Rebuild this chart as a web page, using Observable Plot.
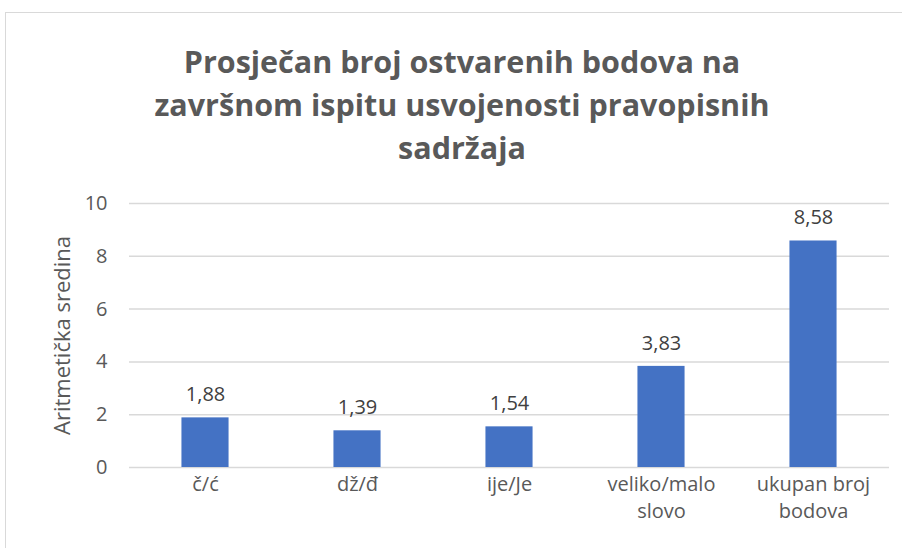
<!DOCTYPE html>
<html>
<head>
<meta charset="utf-8">
<script src="https://cdn.jsdelivr.net/npm/d3@7"></script>
<script src="https://cdn.jsdelivr.net/npm/@observablehq/plot@0.6"></script>
<style>
  html, body { margin: 0; padding: 0; background: #fff; }
  #wrap { position: relative; width: 902px; height: 548px; overflow: hidden; font-family: "Open Sans", sans-serif; }
  #frame { position: absolute; left: 5px; top: 12px; width: 1000px; height: 1000px; border-left: 1.5px solid #d9d9d9; border-top: 1.5px solid #d9d9d9; }
  #title { position: absolute; left: 22px; width: 880px; top: 40px; text-align: center; font-family: "Open Sans", sans-serif; font-weight: bold; font-size: 30.5px; line-height: 43px; color: #595959; }
  #chart { position: absolute; left: 0; top: 0; }
</style>
</head>
<body>
<div id="wrap">
  <div id="frame"></div>
  <div id="title">Prosječan broj ostvarenih bodova na<br>završnom ispitu usvojenosti pravopisnih<br>sadržaja</div>
  <div id="chart"></div>
</div>
<script>
const categories = ["č/ć", "dž/đ", "ije/Je", "veliko/malo\nslovo", "ukupan broj\nbodova"];
const values = [1.88, 1.39, 1.54, 3.83, 8.58];
const valueLabels = ["1,88", "1,39", "1,54", "3,83", "8,58"];
const yTicks = [0, 2, 4, 6, 8, 10];
const yLabel = "Aritmetička sredina";

const data = categories.map((c, i) => ({cat: c, value: values[i], label: valueLabels[i]}));

const chart = Plot.plot({
  width: 902,
  height: 548,
  marginTop: 203,
  marginBottom: 81,
  marginLeft: 129,
  marginRight: 13,
  style: { fontFamily: "Open Sans, sans-serif", background: "transparent", overflow: "visible" },
  x: { domain: categories, paddingInner: 0.69, paddingOuter: 0.345, round: false, label: null },
  y: { domain: [0, 10], ticks: yTicks, label: null },
  marks: [
    Plot.gridY(yTicks, { stroke: "#d9d9d9", strokeOpacity: 1, strokeWidth: 1.5 }),
    Plot.barY(data, { x: "cat", y: "value", fill: "#4472C4" }),
    Plot.text(data, { x: "cat", y: "value", text: "label", dy: -23, lineAnchor: "middle", fontSize: 20, fill: "#404040" }),
    Plot.axisY({ ticks: yTicks, tickSize: 0, tickPadding: 22, fontSize: 20, color: "#595959", label: null, tickFormat: d => String(d) }),
    Plot.axisX({ tickSize: 0, tickPadding: 4, fontSize: 20, color: "#595959", label: null, lineHeight: 1.35 }),
    Plot.text([yLabel], { frameAnchor: "left", dx: -67, rotate: -90, text: d => d, fontSize: 22, fill: "#595959", lineAnchor: "middle", textAnchor: "middle" })
  ]
});
document.getElementById("chart").appendChild(chart);
</script>
</body>
</html>
